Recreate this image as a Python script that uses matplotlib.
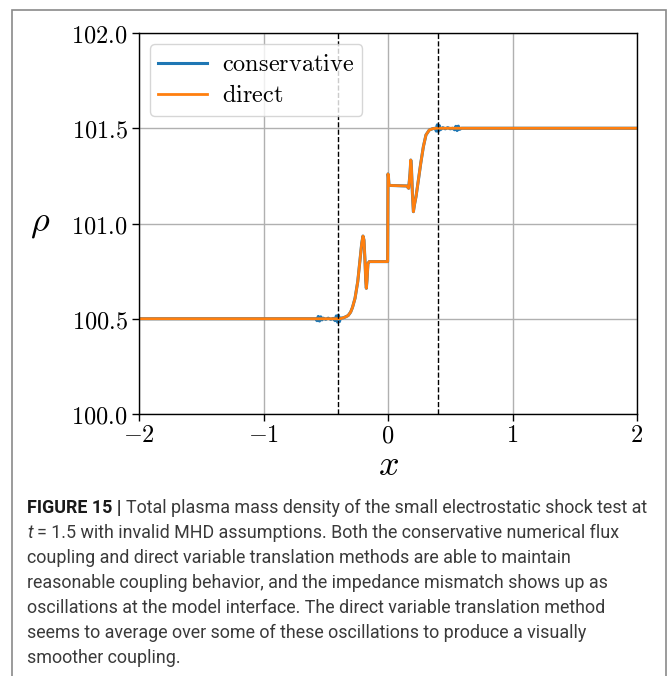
import matplotlib
matplotlib.use("Agg")
import matplotlib.pyplot as plt
from matplotlib.patches import Rectangle

plt.rcParams["mathtext.fontset"] = "cm"

# Total plasma mass density at t = 1.5, direct variable translation coupling
direct_x = [-2.0, -0.40, -0.38, -0.36, -0.34, -0.32, -0.30, -0.285, -0.265,
            -0.243, -0.225, -0.211, -0.201, -0.193, -0.185, -0.179, -0.174,
            -0.169, -0.161, -0.150, -0.003, 0.0, 0.003, 0.008, 0.150, 0.166,
            0.177, 0.183, 0.188, 0.196, 0.204, 0.212, 0.225, 0.244, 0.263,
            0.284, 0.305, 0.332, 0.36, 0.391, 2.0]
direct_rho = [100.5, 100.5, 100.501, 100.505, 100.51, 100.517, 100.535,
              100.56, 100.607, 100.695, 100.808, 100.896, 100.934, 100.913,
              100.808, 100.703, 100.66, 100.70, 100.79, 100.80, 100.80,
              101.26, 101.25, 101.20, 101.197, 101.185, 101.264, 101.333,
              101.298, 101.159, 101.062, 101.097, 101.141, 101.228, 101.316,
              101.403, 101.465, 101.491, 101.498, 101.5, 101.5]

# Conservative numerical flux coupling
conservative_x = [-2.0, -0.58, -0.57, -0.56, -0.55, -0.54, -0.53, -0.52,
                  -0.50, -0.48, -0.46, -0.44, -0.425, -0.415, -0.405, -0.398,
                  -0.39, -0.382, -0.36, -0.34, -0.32, -0.30,
                  -0.285, -0.265, -0.243, -0.225, -0.211, -0.201, -0.193,
                  -0.185, -0.179, -0.174, -0.169, -0.161, -0.150, -0.003, 0.0,
                  0.003, 0.008, 0.150, 0.166, 0.177, 0.183, 0.188, 0.196,
                  0.204, 0.212, 0.225, 0.244, 0.263, 0.284, 0.305, 0.332,
                  0.36, 0.38, 0.388, 0.396, 0.404, 0.412, 0.42, 0.44, 0.46,
                  0.48, 0.50, 0.52, 0.535, 0.545, 0.555, 0.565, 0.575, 0.59,
                  2.0]
conservative_rho = [100.5, 100.5, 100.49, 100.512, 100.488, 100.51, 100.494,
                    100.503, 100.497, 100.503, 100.497, 100.502, 100.49,
                    100.515, 100.482, 100.518, 100.485, 100.503, 100.505,
                    100.51, 100.517, 100.535, 100.56, 100.607, 100.695,
                    100.808, 100.896, 100.934, 100.913, 100.808, 100.703,
                    100.66, 100.70, 100.79, 100.80, 100.80, 101.26, 101.25,
                    101.20, 101.197, 101.185, 101.264, 101.333, 101.298,
                    101.159, 101.062, 101.097, 101.141, 101.228, 101.316,
                    101.403, 101.465, 101.491, 101.498, 101.5, 101.485,
                    101.518, 101.484, 101.514, 101.492, 101.503, 101.497,
                    101.503, 101.497, 101.5, 101.492, 101.51, 101.488,
                    101.511, 101.494, 101.5, 101.5]

interface_x = [-0.4, 0.4]

x_ticks = [-2, -1, 0, 1, 2]
x_tick_labels = [r"$-2$", r"$-1$", r"$0$", r"$1$", r"$2$"]
y_ticks = [100.0, 100.5, 101.0, 101.5, 102.0]
y_tick_labels = [r"$100.0$", r"$100.5$", r"$101.0$", r"$101.5$", r"$102.0$"]

series_labels = [r"$\mathrm{conservative}$", r"$\mathrm{direct}$"]

caption_lines = [
    [("FIGURE 15 |", "bold"), (" Total plasma mass density of the small electrostatic shock test at", "normal")],
    [("t", "italic"), (" = 1.5 with invalid MHD assumptions. Both the conservative numerical flux", "normal")],
    [("coupling and direct variable translation methods are able to maintain", "normal")],
    [("reasonable coupling behavior, and the impedance mismatch shows up as", "normal")],
    [("oscillations at the model interface. The direct variable translation method", "normal")],
    [("seems to average over some of these oscillations to produce a visually", "normal")],
    [("smoother coupling.", "normal")],
]

W, H = 670, 676
fig = plt.figure(figsize=(W / 100, H / 100), dpi=100)
fig.patch.set_facecolor("white")

# frame around figure and caption
fig.patches.append(Rectangle((12 / W, -0.01), (666 - 12) / W, 1 - 10 / H + 0.01,
                             transform=fig.transFigure, fill=False,
                             edgecolor="#8a8a8a", lw=1.2))

ax = fig.add_axes([139 / W, 1 - 414 / H, (637 - 139) / W, (414 - 33) / H])
ax.plot(conservative_x, conservative_rho, color="#1f77b4", lw=2.2,
        label=series_labels[0])
ax.plot(direct_x, direct_rho, color="#ff7f0e", lw=2.0, label=series_labels[1])
for xi in interface_x:
    ax.axvline(xi, color="black", ls="--", lw=1.0)

ax.set_xlim(-2, 2)
ax.set_ylim(100, 102)
ax.set_xticks(x_ticks)
ax.set_xticklabels(x_tick_labels, fontsize=17.5)
ax.set_yticks(y_ticks)
ax.set_yticklabels(y_tick_labels, fontsize=17.5)
ax.tick_params(direction="out", length=5, width=1)
ax.tick_params(axis="x", pad=1.5)
ax.tick_params(axis="y", pad=3)
ax.grid(True, color="#b0b0b0", lw=1.0)
ax.set_axisbelow(True)
for sp in ax.spines.values():
    sp.set_linewidth(1.0)

ax.set_xlabel(r"$x$", fontsize=26)
ax.xaxis.set_label_coords(0.5, -0.089)
ax.set_ylabel(r"$\rho$", fontsize=26, rotation=0, va="center", ha="center")
ax.yaxis.set_label_coords((40 - 139) / 498, 0.5)

leg = ax.legend(loc="upper left", fontsize=17.5, framealpha=0.8,
                edgecolor="#cccccc", borderaxespad=0.45, labelspacing=0.28,
                handletextpad=0.6, borderpad=0.35)

# caption text, drawn segment by segment so mixed styles share a line
renderer = fig.canvas.get_renderer()
cap_family = ["Roboto", "DejaVu Sans"]


def text_width(s, style, size):
    kw = dict(fontsize=size, family=cap_family)
    if style == "bold":
        kw["fontweight"] = "bold"
    elif style == "italic":
        kw["fontstyle"] = "italic"
    t = fig.text(0, 0, s, **kw)
    w = t.get_window_extent(renderer=renderer).width
    t.remove()
    return w


# fit the first caption line to the text column width
base = 13.0
first = caption_lines[0]
w0 = (text_width(first[0][0], "bold", base)
      + text_width(first[1][0].lstrip(" "), "normal", base)
      + text_width("a a", "normal", base) - text_width("aa", "normal", base))
cap_size = base * (651 - 27) / w0
space_w = text_width("a a", "normal", cap_size) - text_width("aa", "normal", cap_size)

y0, dy = 508, 25
for i, segs in enumerate(caption_lines):
    x = 27
    ypx = y0 + i * dy
    for s, style in segs:
        lead = len(s) - len(s.lstrip(" "))
        x += lead * space_w
        s = s.lstrip(" ")
        kw = dict(fontsize=cap_size, family=cap_family, color="#3a3a3a",
                  va="center", ha="left")
        if style == "bold":
            kw["fontweight"] = "bold"
            kw["color"] = "#1a1a1a"
        elif style == "italic":
            kw["fontstyle"] = "italic"
        t = fig.text(x / W, 1 - ypx / H, s, **kw)
        x += t.get_window_extent(renderer=renderer).width

fig.savefig("out.png", dpi=100, facecolor="white")
